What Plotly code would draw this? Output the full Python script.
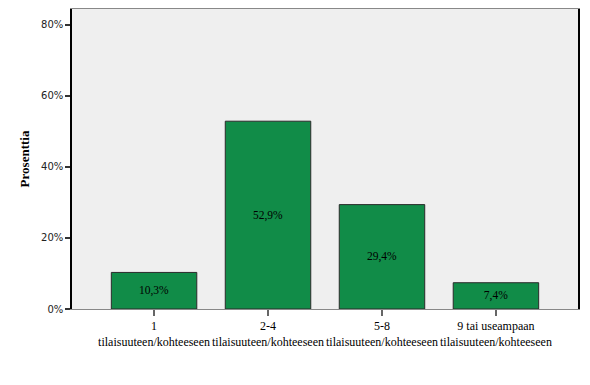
import plotly.graph_objects as go

categories = ["1<br>tilaisuuteen/kohteeseen", "2-4<br>tilaisuuteen/kohteeseen",
              "5-8<br>tilaisuuteen/kohteeseen", "9 tai useampaan<br>tilaisuuteen/kohteeseen"]
values = [10.3, 52.9, 29.4, 7.4]
labels = ["10,3%", "52,9%", "29,4%", "7,4%"]
y_ticks = [0, 20, 40, 60, 80]
y_tick_labels = ["0%", "20%", "40%", "60%", "80%"]

fig = go.Figure(go.Bar(
    x=list(range(len(categories))),
    y=values,
    text=labels,
    textposition="inside",
    insidetextanchor="middle",
    textfont=dict(family="Liberation Serif", size=11.5, color="black"),
    marker=dict(color="#118c48", line=dict(color="#2a2a2a", width=1)),
    width=0.75,
    hoverinfo="skip",
))

# page body has an 8px default margin, so the figure is sized/offset to compensate
fig.update_layout(
    width=582, height=377,
    margin=dict(l=64, r=12, t=1, b=76),
    paper_bgcolor="white",
    plot_bgcolor="#efefef",
    showlegend=False,
)
fig.update_xaxes(
    range=[-0.72, 3.72],
    tickmode="array",
    tickvals=list(range(len(categories))),
    ticktext=categories,
    ticks="outside", ticklen=6, tickwidth=2, tickcolor="#666666",
    showline=True, linecolor="#888888", linewidth=1, mirror=True,
    showgrid=False, zeroline=False,
    tickfont=dict(family="Liberation Serif", size=12, color="black"),
    tickangle=0,
)
fig.update_yaxes(
    range=[0, 84.5],
    tickmode="array",
    tickvals=y_ticks,
    ticktext=y_tick_labels,
    ticks="outside", ticklen=5, tickwidth=2, tickcolor="#333333",
    showline=True, linecolor="black", linewidth=1.5, mirror=True,
    showgrid=False, zeroline=False,
    tickfont=dict(family="DejaVu Sans", size=10, color="#222222"),
    title=dict(text="<b>Prosenttia</b>", font=dict(family="Liberation Serif", size=13, color="black"), standoff=8),
)

fig.write_html("out.html")
